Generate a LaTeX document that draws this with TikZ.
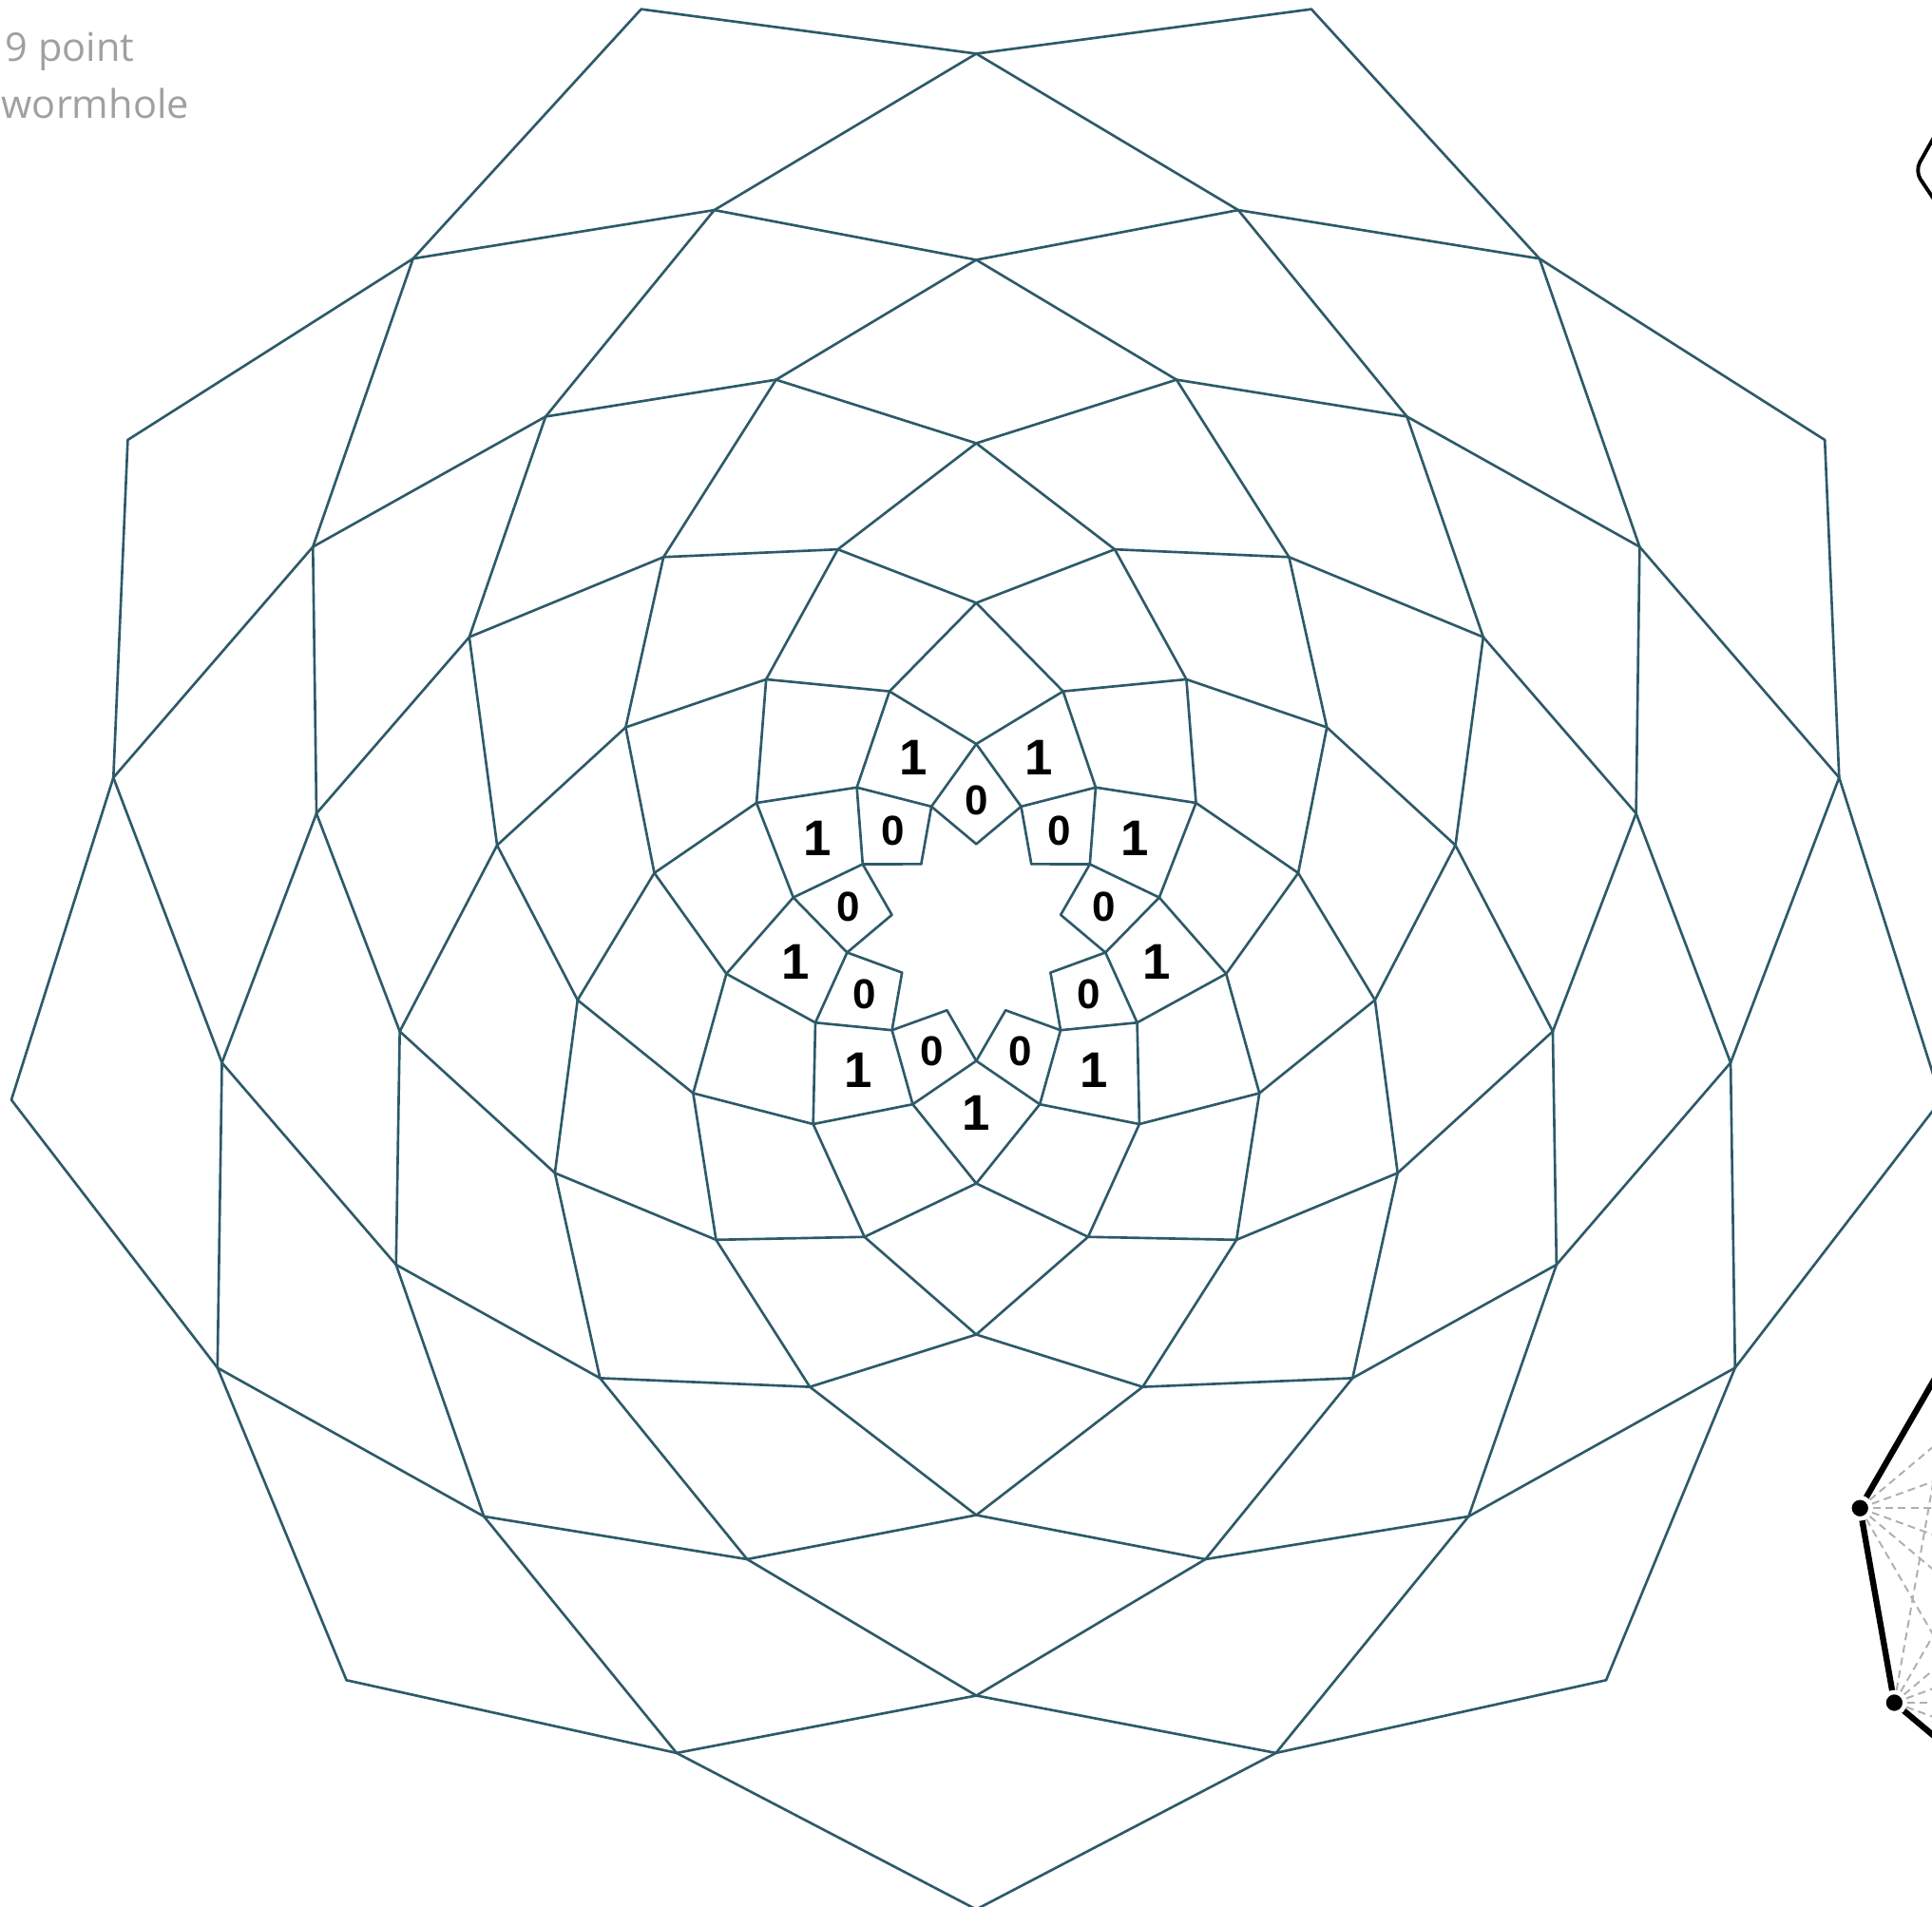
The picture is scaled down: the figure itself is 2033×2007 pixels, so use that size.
\documentclass[tikz,border=0pt]{standalone}
\usepackage{fontspec}
\usetikzlibrary{calc}
\newfontfamily\labelfont{Liberation Sans}
\newfontfamily\notefont{Open Sans}
\definecolor{meshcol}{RGB}{45,90,105}
\definecolor{notecol}{RGB}{160,160,160}
\definecolor{chordcol}{RGB}{175,175,175}
\begin{document}
\begin{tikzpicture}[x=0.01cm,y=0.01cm,
  meshline/.style={draw=meshcol,line width=0.75pt,line join=round,line cap=round},
  onelabel/.style={font=\labelfont\bfseries\fontsize{15}{15}\selectfont,inner sep=0pt},
  zerolabel/.style={font=\labelfont\bfseries\fontsize{12.5}{12.5}\selectfont,inner sep=0pt},
  notetext/.style={font=\notefont\fontsize{11.8}{17}\selectfont,text=notecol,inner sep=0pt,anchor=base west},
  chord/.style={draw=chordcol,line width=0.55pt,dash pattern=on 2.3pt off 1.5pt},
  polyedge/.style={draw=black,line width=1.8pt},
  polydot/.style={circle,fill=black,draw=white,line width=1.3pt,minimum size=6.3pt,inner sep=0pt}]
\useasboundingbox (0,0) rectangle (2033,-2007);
\fill[white] (0,0) rectangle (2033,-2007);
\coordinate (ctr) at (1027.3,-978.5);
% ring vertices
\foreach \i/\r in {0/1031,1/922,2/806,3/705,4/616,5/512,6/426,7/344,8/267,9/195.5,10/138,11/90.2}{
  \foreach \k in {0,...,8}{
    \pgfmathsetmacro{\a}{110-20*mod(\i,2)+40*\k}
    \coordinate (v\i-\k) at ($(ctr)+(\a:\r)$);
  }
}
% mesh edges
\foreach \i in {0,...,10}{
  \pgfmathtruncatemacro{\j}{\i+1}
  \foreach \k in {0,...,8}{
    \pgfmathtruncatemacro{\m}{ifthenelse(mod(\i,2)==0,mod(\k+1,9),mod(\k+8,9))}
    \draw[meshline] (v\i-\k) -- (v\j-\k);
    \draw[meshline] (v\i-\k) -- (v\j-\m);
  }
}
% labels
\foreach \k in {0,...,8}{
  \pgfmathsetmacro{\a}{110+40*\k}
  \node[onelabel] (one\k) at ($(ctr)+(\a:193)$) {1};
  \pgfmathsetmacro{\b}{90+40*\k}
  \node[zerolabel] (zero\k) at ($(ctr)+(\b:136.3)$) {0};
}
% title
\node[notetext] (title1) at (5,-65) {9 point};
\node[notetext] (title2) at (1,-125) {wormhole};
% fragment top right
\coordinate (chA) at (2050,-118);
\coordinate (chB) at (2015,-180);
\coordinate (chC) at (2050,-232);
\draw[black,line width=1.1pt,rounded corners=3pt] (chA) -- (chB) -- (chC);
% fragment bottom right: 9-gon with chords
\coordinate (kc) at (2256.6,-1640);
\foreach \j in {0,...,8}{
  \pgfmathsetmacro{\a}{-190+40*\j}
  \coordinate (k\j) at ($(kc)+(\a:304)$);
}
\foreach \j in {0,...,8}{
  \foreach \l in {0,...,8}{
    \ifnum\l>\j \draw[chord] (k\j) -- (k\l); \fi
  }
}
\foreach \j in {0,...,8}{
  \pgfmathtruncatemacro{\n}{mod(\j+1,9)}
  \draw[polyedge] (k\j) -- (k\n);
}
\foreach \j in {0,...,8}{
  \node[polydot] (kd\j) at (k\j) {};
}
\end{tikzpicture}
\end{document}
